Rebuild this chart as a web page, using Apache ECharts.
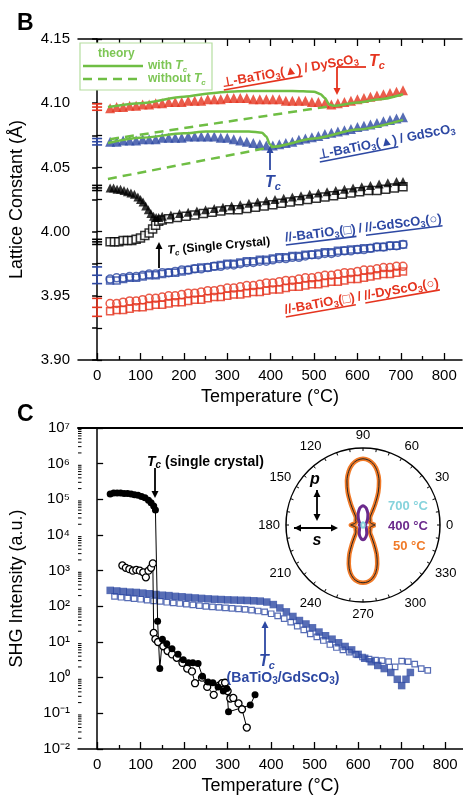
<!DOCTYPE html>
<html><head><meta charset="utf-8">
<script src="https://cdn.jsdelivr.net/npm/echarts@6/dist/echarts.min.js"></script>
<style>html,body{margin:0;padding:0;background:#fff}#c{width:463px;height:796px}</style>
</head><body><div id="c"></div>
<script>
// ---------------- DATA : panel B (lattice constant, Å) ----------------
const xTicksMajor = [0,100,200,300,400,500,600,700,800];
const xTicksMinor = [50,150,250,350,450,550,650,750];
const T15 = [30,45,60,75,90,105,120,135,150,165,180,195,210,225,240,255,270,285,300,315,330,345,360,375,390,405,420,435,450,465,480,495,510,525,540,555,570,585,600,615,630,645,660,675,690,705];
const perpDy = [4.096,4.097,4.097,4.098,4.098,4.099,4.099,4.100,4.100,4.101,4.101,4.101,4.102,4.102,4.102,4.103,4.103,4.103,4.104,4.104,4.104,4.104,4.103,4.103,4.103,4.103,4.103,4.102,4.102,4.102,4.102,4.101,4.101,4.100,4.099,4.100,4.101,4.102,4.103,4.104,4.105,4.106,4.107,4.108,4.109,4.110];
const perpGd = [4.070,4.070,4.071,4.071,4.071,4.072,4.072,4.072,4.073,4.073,4.073,4.073,4.074,4.074,4.074,4.074,4.074,4.073,4.073,4.072,4.071,4.070,4.069,4.068,4.067,4.067,4.068,4.069,4.070,4.0715,4.0725,4.0735,4.0745,4.076,4.077,4.078,4.079,4.080,4.0815,4.0825,4.0835,4.0845,4.086,4.087,4.088,4.089];
const parGdCirc = [3.963,3.964,3.964,3.965,3.965,3.966,3.967,3.967,3.968,3.968,3.969,3.970,3.970,3.971,3.971,3.972,3.973,3.973,3.974,3.974,3.975,3.976,3.976,3.977,3.977,3.978,3.979,3.979,3.980,3.980,3.981,3.982,3.982,3.983,3.983,3.984,3.985,3.985,3.986,3.986,3.987,3.988,3.988,3.989,3.989,3.990];
const parGdSq = [3.962,3.962,3.963,3.964,3.964,3.965,3.966,3.966,3.967,3.968,3.968,3.969,3.970,3.971,3.972,3.972,3.973,3.974,3.975,3.975,3.976,3.977,3.977,3.978,3.978,3.979,3.980,3.980,3.981,3.981,3.982,3.982,3.983,3.984,3.984,3.985,3.985,3.986,3.986,3.987,3.987,3.988,3.988,3.989,3.989,3.990];
const parDyCirc = [3.944,3.944,3.945,3.946,3.946,3.947,3.948,3.948,3.949,3.950,3.950,3.951,3.952,3.952,3.953,3.954,3.954,3.955,3.956,3.956,3.957,3.958,3.958,3.959,3.960,3.960,3.961,3.962,3.962,3.963,3.964,3.964,3.965,3.966,3.966,3.967,3.968,3.968,3.969,3.970,3.970,3.971,3.972,3.972,3.973,3.973];
const parDySq = [3.938,3.939,3.939,3.940,3.941,3.941,3.942,3.943,3.943,3.944,3.945,3.945,3.946,3.947,3.947,3.948,3.949,3.949,3.950,3.951,3.951,3.952,3.953,3.953,3.954,3.955,3.955,3.956,3.957,3.957,3.958,3.959,3.959,3.960,3.961,3.961,3.962,3.963,3.963,3.964,3.965,3.966,3.967,3.967,3.968,3.969];
const scTriT = [30,38,46,54,62,70,78,86,94,100,106,112,118,124,130,136,142,150,170,190,210,230,250,270,290,310,330,350,370,390,410,430,450,470,490,510,530,550,570,590,610,630,650,670,690,705];
const scTriV = [4.034,4.034,4.033,4.033,4.032,4.031,4.030,4.029,4.027,4.025,4.023,4.020,4.017,4.014,4.012,4.011,4.011,4.012,4.013,4.014,4.015,4.016,4.017,4.018,4.019,4.020,4.021,4.022,4.023,4.024,4.025,4.026,4.027,4.028,4.029,4.030,4.031,4.032,4.033,4.034,4.035,4.036,4.037,4.038,4.039,4.039];
const scSqT = [30,40,50,60,70,80,90,100,110,120,128,135,142,150,165,185,205,225,245,265,285,305,325,345,365,385,405,425,445,465,485,505,525,545,565,585,605,625,645,665,685,705];
const scSqV = [3.992,3.992,3.992,3.993,3.993,3.993,3.994,3.995,3.997,3.999,4.002,4.005,4.008,4.009,4.010,4.011,4.012,4.013,4.014,4.015,4.016,4.017,4.017,4.018,4.019,4.020,4.021,4.022,4.023,4.024,4.025,4.026,4.027,4.028,4.029,4.030,4.031,4.032,4.032,4.033,4.034,4.035];
const thDyT = [25,100,200,270,300,350,400,450,500,515,525,535,545,600,650,705];
const thDyV = [4.097,4.100,4.105,4.108,4.109,4.1095,4.1095,4.1095,4.109,4.107,4.104,4.099,4.098,4.1005,4.103,4.107];
const thGdT = [25,100,200,250,300,350,380,390,398,405,500,600,705];
const thGdV = [4.069,4.073,4.0765,4.078,4.078,4.078,4.077,4.074,4.068,4.066,4.0725,4.0795,4.087];
const noTcDyT = [30,545], noTcDyV = [4.072,4.098];
const noTcGdT = [25,405], noTcGdV = [4.041,4.066];
const errT = [0,0,0,0,0,0];
const errV = [4.097,4.070,4.034,3.992,3.966,3.941];
const errE = [0.0025,0.0025,0.002,0.002,0.0065,0.007];

// ---------------- DATA : panel C (SHG intensity, a.u.) ----------------
const scFillT = [30,38,46,54,62,70,78,86,94,102,110,118,124,130,134,139,144,150,160,172,186,198,210,220,232,242,255,266,278,290,298,302,352,363];
const scFillV = [1.4e5,1.5e5,1.5e5,1.5e5,1.45e5,1.45e5,1.4e5,1.35e5,1.3e5,1.2e5,1.1e5,9.5e4,8e4,6.5e4,5e4,38,1.8,12,9,6.5,4.5,3.2,2.6,2.6,2.5,1.1,0.75,0.72,0.55,0.42,0.5,0.11,0.17,0.33];
const scOpenT = [58,66,74,82,90,98,106,112,118,124,128,130,134,140,152,162,172,183,196,207,218,225,241,253,268,280,287,294,300,306,313,325,333,344];
const scOpenV = [1.4e3,1.2e3,1.1e3,1.0e3,1.05e3,1.0e3,9e2,6.5e2,1.0e3,1.2e3,1.6e3,18,12,10,7.6,5.6,4.5,3.6,2.6,1.8,1.5,0.7,1.0,0.55,0.33,0.6,0.7,0.72,0.42,0.26,0.27,0.19,0.13,0.04];
const filmFillT = [30,45,60,75,90,105,120,135,150,165,180,195,210,225,240,255,270,285,300,315,330,345,360,375,390,405,420,435,450,465,480,495,510,525,540,555,570,585,600,615,630,645,660,675,690,700,710,720];
const filmFillV = [280,270,260,250,245,235,225,215,205,200,190,185,178,172,167,162,158,155,152,150,148,146,143,140,132,112,90,70,52,40,32,25,19,15,12,9.5,7.5,6,4.5,3.5,2.8,2.2,1.8,1.4,0.9,0.6,0.9,1.4];
const filmOpenT = [40,55,70,85,100,115,130,145,160,175,190,205,220,235,250,265,280,295,310,325,340,355,370,385,400,415,430,445,460,475,490,505,520,535,550,565,580,595,610,625,640,655,670,685,700,715,730,745,760];
const filmOpenV = [190,180,172,165,158,150,143,137,130,125,120,115,110,105,100,97,94,91,88,85,82,78,74,70,62,54,45,36,28,22,17,14,11,8.5,7,6,5.2,4.5,3.8,3.3,3.1,3.0,2.8,2.0,2.9,2.8,2.4,1.8,1.6];

// ---------------- DATA : polar inset (normalised SHG) ----------------
const polAng = [0,5,10,15,20,25,30,35,40,45,50,55,60,65,70,75,80,85,90,95,100,105,110,115,120,125,130,135,140,145,150,155,160,165,170,175,180,185,190,195,200,205,210,215,220,225,230,235,240,245,250,255,260,265,270,275,280,285,290,295,300,305,310,315,320,325,330,335,340,345,350,355];
const pol50 = [0.16,0.13,0.11,0.10,0.10,0.10,0.11,0.115,0.12,0.13,0.15,0.21,0.32,0.47,0.61,0.72,0.80,0.845,0.86,0.845,0.80,0.72,0.61,0.47,0.32,0.21,0.15,0.13,0.12,0.115,0.11,0.10,0.10,0.10,0.11,0.13,0.16,0.13,0.11,0.10,0.10,0.10,0.11,0.115,0.12,0.13,0.15,0.20,0.29,0.42,0.54,0.64,0.705,0.74,0.75,0.74,0.705,0.64,0.54,0.42,0.29,0.20,0.15,0.13,0.12,0.115,0.11,0.10,0.10,0.10,0.11,0.13];
const pol400 = [0.05,0.045,0.04,0.04,0.04,0.045,0.05,0.055,0.065,0.075,0.09,0.105,0.125,0.15,0.175,0.20,0.225,0.24,0.25,0.24,0.225,0.20,0.175,0.15,0.125,0.105,0.09,0.075,0.065,0.055,0.05,0.045,0.04,0.04,0.04,0.045,0.05,0.045,0.04,0.04,0.04,0.045,0.05,0.05,0.055,0.06,0.07,0.08,0.095,0.115,0.135,0.155,0.17,0.185,0.19,0.185,0.17,0.155,0.135,0.115,0.095,0.08,0.07,0.06,0.055,0.05,0.05,0.045,0.04,0.04,0.04,0.045];
const pol700Ang = [0,30,60,90,120,150,180,210,240,270,300,330];
const pol700 = [0.02,0.025,0.03,0.035,0.03,0.025,0.02,0.025,0.03,0.035,0.03,0.025];

// ---------------- styles ----------------
const RED='#e5341f', BLUE='#2d48a3', GREEN='#6fbe44', LGREEN='#7dc655', BLACK='#000';
const ORANGE='#f07a28', PURPLE='#6b2a8c', CYAN='#86d3dc';
const ERRCOL=[RED,BLUE,BLACK,BLACK,BLUE,RED];
const FONT='"Liberation Sans", Arial, Helvetica, sans-serif';
const zip=(xs,ys)=>xs.map((x,i)=>[x,ys[i]]);
const loop=(rs,as)=>{const d=as.map((a,i)=>[rs[i],a]);d.push(d[0]);return d;};
const SUP={'-':'⁻','0':'⁰','1':'¹','2':'²','3':'³','4':'⁴','5':'⁵','6':'⁶','7':'⁷','8':'⁸','9':'⁹'};
const minorLog=[];for(let e=-2;e<7;e++){for(let m=2;m<10;m++)minorLog.push(m*Math.pow(10,e));}

const mctx=document.createElement('canvas').getContext('2d');
function segW(segs,size,weight){let w=0;for(const [t,k] of segs){const sub=(k==='s'||k==='si');const it=(k==='i'||k==='si');mctx.font=(it?'italic ':'')+weight+' '+(sub?Math.round(size*0.68):size)+'px '+FONT;w+=mctx.measureText(t).width;}return w;}
function richStr(segs){return segs.map(([t,k])=>k==='n'?t:'{'+k+'|'+t+'}').join('');}
function richStyles(size,weight,color){const ss=Math.round(size*0.68);return{
  i:{fontSize:size,fontStyle:'italic',fontWeight:weight,fontFamily:FONT,fill:color,lineHeight:size+3},
  s:{fontSize:ss,fontWeight:weight,fontFamily:FONT,fill:color,lineHeight:ss,verticalAlign:'bottom'},
  si:{fontSize:ss,fontStyle:'italic',fontWeight:weight,fontFamily:FONT,fill:color,lineHeight:ss,verticalAlign:'bottom'}};}
function txt(x,y,segs,o){return{type:'text',x:x,y:y,rotation:(o.rot||0)*Math.PI/180,z:50,style:{text:richStr(segs),fill:o.color,fontSize:o.size,fontWeight:o.weight||'bold',fontStyle:o.style||'normal',fontFamily:FONT,align:o.align||'left',verticalAlign:o.va||'middle',lineHeight:o.size+3,rich:richStyles(o.size,o.weight||'bold',o.color)}};}
function labelGroup(x,y,deg,color,size,pieces){const ch=[];let cx=0;pieces.forEach(p=>{const w=segW(p.segs,size,'bold');ch.push(txt(cx,0,p.segs,{color:color,size:size,va:'bottom'}));if(p.u)ch.push({type:'line',z:50,shape:{x1:cx,y1:-1,x2:cx+w,y2:-1},style:{stroke:color,lineWidth:1.6}});cx+=w+3;});return{type:'group',x:x,y:y,rotation:deg*Math.PI/180,z:50,children:ch};}
function arrow(x1,y1,x2,y2,color,lw,both){const a=Math.atan2(y2-y1,x2-x1),L=7,W=3.5;const head=(px,py,ang)=>{const bx=px-L*Math.cos(ang),by=py-L*Math.sin(ang);return{type:'polygon',z:50,shape:{points:[[px,py],[bx+W*Math.sin(ang),by-W*Math.cos(ang)],[bx-W*Math.sin(ang),by+W*Math.cos(ang)]]},style:{fill:color}};};
  const els=[{type:'line',z:50,shape:{x1:x1,y1:y1,x2:x2-4*Math.cos(a),y2:y2-4*Math.sin(a)},style:{stroke:color,lineWidth:lw||1.8}},head(x2,y2,a)];
  if(both)els.push(head(x1,y1,a+Math.PI));return els;}
const TC=[['T','i'],['c','si']];

// ---------------- graphics (annotations) ----------------
const gfx=[].concat(
  [txt(17,24,[['B','n']],{color:BLACK,size:23}), txt(17,415,[['C','n']],{color:BLACK,size:23})],
  [{type:'rect',z:40,shape:{x:80,y:43,width:132,height:47},style:{fill:'#fff',stroke:'#b5dea0',lineWidth:1.2}},
   txt(98,54,[['theory','n']],{color:LGREEN,size:12}),
   {type:'line',z:50,shape:{x1:83,y1:66,x2:143,y2:66},style:{stroke:GREEN,lineWidth:2.5}},
   txt(148,66,[['with ','n']].concat(TC),{color:LGREEN,size:12}),
   {type:'line',z:50,shape:{x1:83,y1:79,x2:143,y2:79},style:{stroke:GREEN,lineWidth:2.5,lineDash:[9,6]}},
   txt(148,79,[['without ','n']].concat(TC),{color:LGREEN,size:12})],
  [labelGroup(224,91,10,RED,13,[{segs:[['⊥-BaTiO','n'],['3','s'],['(▲)','n']],u:true},{segs:[['/ DyScO','n'],['3','s']]}]),
   labelGroup(320,163,11,BLUE,13,[{segs:[['⊥-BaTiO','n'],['3','s'],['(▲)','n']],u:true},{segs:[['/ GdScO','n'],['3','s']]}]),
   labelGroup(286,246,7,BLUE,13,[{segs:[['//-BaTiO','n'],['3','s'],['(□)','n']],u:true},{segs:[['/','n']]},{segs:[['//-GdScO','n'],['3','s'],['(○)','n']],u:true}]),
   labelGroup(286,318,10,RED,13,[{segs:[['//-BaTiO','n'],['3','s'],['(□)','n']],u:true},{segs:[['/','n']]},{segs:[['//-DyScO','n'],['3','s'],['(○)','n']],u:true}]),
   labelGroup(168,258,5,BLACK,12,[{segs:TC.concat([[' (Single Crystal)','n']])}]),
   {type:'line',z:50,shape:{x1:366,y1:67,x2:337,y2:67},style:{stroke:RED,lineWidth:1.8}},
   txt(369,62,TC,{color:RED,size:16})],
  arrow(337,67,337,95,RED),
  [txt(273,183,TC,{color:BLUE,size:16,align:'center'})],
  arrow(270,170,270,146,BLUE),
  arrow(159,268,159,242,BLACK),
  // panel C
  [txt(147,462,TC.concat([[' (single crystal)','n']]),{color:BLACK,size:14})],
  arrow(155,468,155,498,BLACK),
  arrow(265,654,265,621,BLUE),
  [txt(267,662,TC,{color:BLUE,size:16,align:'center'}),
   txt(283,678,[['(BaTiO','n'],['3','s'],['/GdScO','n'],['3','s'],[')','n']],{color:BLUE,size:14,align:'center'}),
   txt(315,480,[['p','i']],{color:BLACK,size:16,align:'center'}),
   txt(317,541,[['s','i']],{color:BLACK,size:16,align:'center'}),
   txt(388,506,[['700 °C','n']],{color:CYAN,size:13}),
   txt(388,526,[['400 °C','n']],{color:PURPLE,size:13}),
   txt(393,546,[['50 °C','n']],{color:ORANGE,size:13})],
  arrow(317,490,317,521,BLACK,1.8,true),
  arrow(294,528,338,528,BLACK,1.8,true)
);

// ---------------- chart ----------------
const chart=echarts.init(document.getElementById('c'),null,{renderer:'canvas'});
const lbl={color:BLACK,fontSize:15,fontFamily:FONT};
function xAx(grid,pos,major,labels,extra){return Object.assign({type:'value',gridIndex:grid,position:pos,min:-44,max:841,
  axisLine:{show:major,lineStyle:{color:BLACK,width:1.5}},
  axisTick:{show:true,inside:true,length:major?7:4,customValues:major?xTicksMajor:xTicksMinor,lineStyle:{color:BLACK,width:1.3}},
  axisLabel:{show:labels,customValues:xTicksMajor,margin:8,...lbl},splitLine:{show:false}},extra||{});}
const xName={name:'Temperature (°C)',nameLocation:'middle',nameGap:28,nameTextStyle:{color:BLACK,fontSize:18,fontFamily:FONT}};

const option={
  animation:false,backgroundColor:'#fff',
  grid:[{left:78,top:39,width:384,height:321},{left:78,top:428,width:385,height:322}],
  xAxis:[
    xAx(0,'bottom',true,true,xName), xAx(0,'bottom',false,false), xAx(0,'top',true,false), xAx(0,'top',false,false),
    xAx(1,'bottom',true,true,xName), xAx(1,'bottom',false,false),
    {type:'value',gridIndex:1,position:'top',min:-44,max:841,axisLine:{show:true,lineStyle:{color:BLACK,width:2}},axisTick:{show:false},axisLabel:{show:false},splitLine:{show:false}}
  ],
  yAxis:[
    {type:'value',gridIndex:0,min:3.9,max:4.15,interval:0.025,position:'left',
     axisLine:{show:true,lineStyle:{color:BLACK,width:1.5}},axisTick:{inside:true,length:5,lineStyle:{color:BLACK,width:1.3}},
     axisLabel:{margin:8,...lbl,formatter:v=>{const k=Math.round(v*1000);return k%50===0?(k/1000).toFixed(2):'';}},splitLine:{show:false},
     name:'Lattice Constant (Å)',nameLocation:'middle',nameGap:52,nameTextStyle:{color:BLACK,fontSize:18,fontFamily:FONT}},
    {type:'value',gridIndex:0,min:3.9,max:4.15,interval:0.025,position:'right',
     axisLine:{show:false},axisTick:{inside:true,length:5,lineStyle:{color:BLACK,width:1.5}},axisLabel:{show:false},splitLine:{show:false}},
    {type:'log',gridIndex:1,min:0.01,max:1e7,logBase:10,splitNumber:9,position:'left',
     axisLine:{show:true,lineStyle:{color:BLACK,width:1.5}},axisTick:{inside:true,length:6,lineStyle:{color:BLACK,width:1.3}},
     axisLabel:{margin:8,...lbl,formatter:v=>{const e=Math.round(Math.log10(v));return '10'+String(e).split('').map(c=>SUP[c]).join('');}},splitLine:{show:false},
     name:'SHG Intensity (a.u.)',nameLocation:'middle',nameGap:52,nameTextStyle:{color:BLACK,fontSize:18,fontFamily:FONT}}
  ],
  polar:{center:[363,525],radius:77},
  angleAxis:{type:'value',min:0,max:360,interval:10,startAngle:0,clockwise:false,
    axisLine:{lineStyle:{color:BLACK,width:1.5}},axisTick:{show:true,inside:true,length:3,lineStyle:{color:BLACK}},
    axisLabel:{margin:6,color:BLACK,fontSize:13,fontFamily:FONT,formatter:v=>(v%30===0&&v<360)?String(v):''},splitLine:{show:false}},
  radiusAxis:{type:'value',min:0,max:1,axisLine:{show:false},axisTick:{show:false},axisLabel:{show:false},splitLine:{show:false}},
  graphic:gfx,
  series:[
    // ---- panel B ----
    {type:'custom',xAxisIndex:0,yAxisIndex:0,data:errV.map((v,i)=>[errT[i],v,errE[i]]),z:4,silent:true,
     renderItem:(params,api)=>{const x=api.value(0),y=api.value(1),e=api.value(2),c=ERRCOL[params.dataIndex];
       const t=api.coord([x,y+e]),b=api.coord([x,y-e]),m=api.coord([x,y]);const s={stroke:c,lineWidth:1.6};
       return{type:'group',children:[{type:'line',shape:{x1:t[0],y1:t[1],x2:b[0],y2:b[1]},style:s},
         {type:'line',shape:{x1:t[0]-5,y1:t[1],x2:t[0]+5,y2:t[1]},style:s},{type:'line',shape:{x1:b[0]-5,y1:b[1],x2:b[0]+5,y2:b[1]},style:s},
         {type:'line',shape:{x1:m[0]-5,y1:m[1],x2:m[0]+5,y2:m[1]},style:s}]};}},
    {type:'scatter',xAxisIndex:0,yAxisIndex:0,data:zip(T15,parDySq),symbol:'rect',symbolSize:7,itemStyle:{color:'rgba(255,255,255,0)',borderColor:RED,borderWidth:1.5}},
    {type:'scatter',xAxisIndex:0,yAxisIndex:0,data:zip(T15,parDyCirc),symbol:'circle',symbolSize:8,itemStyle:{color:'rgba(255,255,255,0)',borderColor:RED,borderWidth:1.5}},
    {type:'scatter',xAxisIndex:0,yAxisIndex:0,data:zip(T15,parGdSq),symbol:'rect',symbolSize:7,itemStyle:{color:'rgba(255,255,255,0)',borderColor:BLUE,borderWidth:1.5}},
    {type:'scatter',xAxisIndex:0,yAxisIndex:0,data:zip(T15,parGdCirc),symbol:'circle',symbolSize:8,itemStyle:{color:'rgba(255,255,255,0)',borderColor:BLUE,borderWidth:1.5}},
    {type:'scatter',xAxisIndex:0,yAxisIndex:0,data:zip(scSqT,scSqV),symbol:'rect',symbolSize:8,itemStyle:{color:'#fff',borderColor:BLACK,borderWidth:1.5}},
    {type:'scatter',xAxisIndex:0,yAxisIndex:0,data:zip(scTriT,scTriV),symbol:'triangle',symbolSize:9,itemStyle:{color:BLACK}},
    {type:'scatter',xAxisIndex:0,yAxisIndex:0,data:zip(T15,perpGd),symbol:'triangle',symbolSize:10,itemStyle:{color:BLUE}},
    {type:'scatter',xAxisIndex:0,yAxisIndex:0,data:zip(T15,perpDy),symbol:'triangle',symbolSize:10,itemStyle:{color:RED}},
    {type:'line',xAxisIndex:0,yAxisIndex:0,data:zip(noTcDyT,noTcDyV),symbol:'none',z:5,lineStyle:{color:GREEN,width:2.5,type:[9,6]}},
    {type:'line',xAxisIndex:0,yAxisIndex:0,data:zip(noTcGdT,noTcGdV),symbol:'none',z:5,lineStyle:{color:GREEN,width:2.5,type:[9,6]}},
    {type:'line',xAxisIndex:0,yAxisIndex:0,data:zip(thDyT,thDyV),symbol:'none',z:5,smooth:0.25,smoothMonotone:'x',lineStyle:{color:GREEN,width:2.5}},
    {type:'line',xAxisIndex:0,yAxisIndex:0,data:zip(thGdT,thGdV),symbol:'none',z:5,smooth:0.25,smoothMonotone:'x',lineStyle:{color:GREEN,width:2.5}},
    // ---- panel C ----
    {type:'custom',xAxisIndex:4,yAxisIndex:2,data:minorLog.map(v=>[0,v]),silent:true,z:4,
     renderItem:(params,api)=>{const p=api.coord([api.value(0),api.value(1)]);const x0=params.coordSys.x;
       return{type:'line',shape:{x1:x0,y1:p[1],x2:x0+3.5,y2:p[1]},style:{stroke:BLACK,lineWidth:1}};}},
    {type:'scatter',xAxisIndex:4,yAxisIndex:2,data:zip(filmOpenT,filmOpenV),symbol:'rect',symbolSize:5.5,z:2,itemStyle:{color:'#fff',borderColor:BLUE,borderWidth:1.2}},
    {type:'scatter',xAxisIndex:4,yAxisIndex:2,data:zip(filmFillT,filmFillV),symbol:'rect',symbolSize:7.5,z:3,itemStyle:{color:BLUE}},
    {type:'line',xAxisIndex:4,yAxisIndex:2,data:zip(scOpenT,scOpenV),symbol:'circle',symbolSize:7,showAllSymbol:true,z:4,itemStyle:{color:'#fff',borderColor:BLACK,borderWidth:1.3},lineStyle:{color:BLACK,width:1}},
    {type:'line',xAxisIndex:4,yAxisIndex:2,data:zip(scFillT,scFillV),symbol:'circle',symbolSize:7,showAllSymbol:true,z:4,itemStyle:{color:BLACK},lineStyle:{color:BLACK,width:1}},
    // ---- polar inset ----
    {type:'line',coordinateSystem:'polar',polarIndex:0,data:loop(pol50,polAng),symbol:'none',smooth:0.3,lineStyle:{color:ORANGE,width:4.5}},
    {type:'line',coordinateSystem:'polar',polarIndex:0,data:loop(pol50,polAng),symbol:'none',smooth:0.3,lineStyle:{color:'#222',width:1}},
    {type:'line',coordinateSystem:'polar',polarIndex:0,data:loop(pol400,polAng),symbol:'none',smooth:0.3,lineStyle:{color:PURPLE,width:3}},
    {type:'line',coordinateSystem:'polar',polarIndex:0,data:loop(pol700,pol700Ang),symbol:'none',smooth:0.3,lineStyle:{color:CYAN,width:2}}
  ]
};
chart.setOption(option);
</script></body></html>
